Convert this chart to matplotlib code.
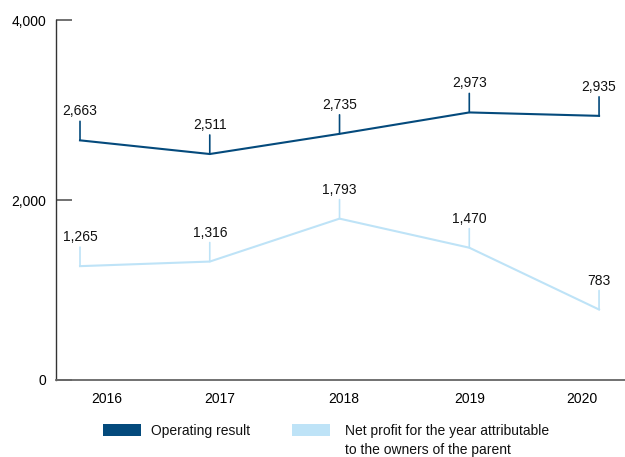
import matplotlib
matplotlib.use("Agg")
import matplotlib.pyplot as plt
import matplotlib.patches as mpatches
import matplotlib.transforms as mtransforms

plt.rcParams["font.family"] = ["Liberation Sans", "DejaVu Sans"]

years = [2016, 2017, 2018, 2019, 2020]
operating_result = [2663, 2511, 2735, 2973, 2935]
net_profit = [1265, 1316, 1793, 1470, 783]
y_ticks = [0, 2000, 4000]
y_ticklabels = ["0", "2,000", "4,000"]
legend_labels = ["Operating result",
                 "Net profit for the year attributable\nto the owners of the parent"]

DARK = "#044a7c"
LIGHT = "#bee3f7"
SPINE = "#666666"
FS = 10

# the year labels in the original sit a bit off their points (px shift)
year_label_shift = [27, 10, 4, 0, -17]

fig = plt.figure(figsize=(6.25, 4.57), dpi=100)
ax = fig.add_axes([0.0896, 0.1685, 0.9104, 0.7877])

for vals, color in [(operating_result, DARK), (net_profit, LIGHT)]:
    ax.plot(years, vals, color=color, lw=1.5, solid_joinstyle="miter", zorder=3)
    for x, v in zip(years, vals):
        # short leader line up from the point, value written above it
        ax.annotate("", xy=(x, v), xytext=(0, 13.7), textcoords="offset points",
                    arrowprops=dict(arrowstyle="-", color=color, lw=1.2,
                                    shrinkA=0, shrinkB=0))
        ax.annotate(f"{v:,}", xy=(x, v), xytext=(0, 18),
                    textcoords="offset points", ha="center", va="baseline",
                    fontsize=FS, color="#111111")

ax.set_xlim(2015.815, 2020.2)
ax.set_ylim(0, 4000)
ax.set_yticks(y_ticks)
ax.set_yticklabels(y_ticklabels)
ax.set_xticks(years)
ax.set_xticklabels([str(y) for y in years])

for side in ["top", "right"]:
    ax.spines[side].set_visible(False)
ax.spines["left"].set_color("#333333")
ax.spines["bottom"].set_color(SPINE)
ax.spines["left"].set_linewidth(1.0)
ax.spines["bottom"].set_linewidth(1.3)

ax.tick_params(axis="y", direction="in", length=11.5, width=1.3, color=SPINE,
               labelsize=FS, pad=7)
ax.tick_params(axis="x", length=0, labelsize=FS, pad=9)
for lab, dx in zip(ax.get_xticklabels(), year_label_shift):
    lab.set_transform(lab.get_transform() +
                      mtransforms.ScaledTranslation(dx / 100, 0, fig.dpi_scale_trans))

# legend drawn by hand to match the original placement
W, H = 625, 457
for (px, tx), color, label in zip([(103, 151), (292, 345)], [DARK, LIGHT], legend_labels):
    fig.add_artist(mpatches.Rectangle((px / W, 1 - 436 / H), 38 / W, 12 / H,
                                      transform=fig.transFigure, color=color, lw=0))
    fig.text(tx / W, 1 - 424 / H, label, ha="left", va="top", fontsize=FS,
             color="#111111", linespacing=1.45)

fig.savefig("out.png", dpi=100)
